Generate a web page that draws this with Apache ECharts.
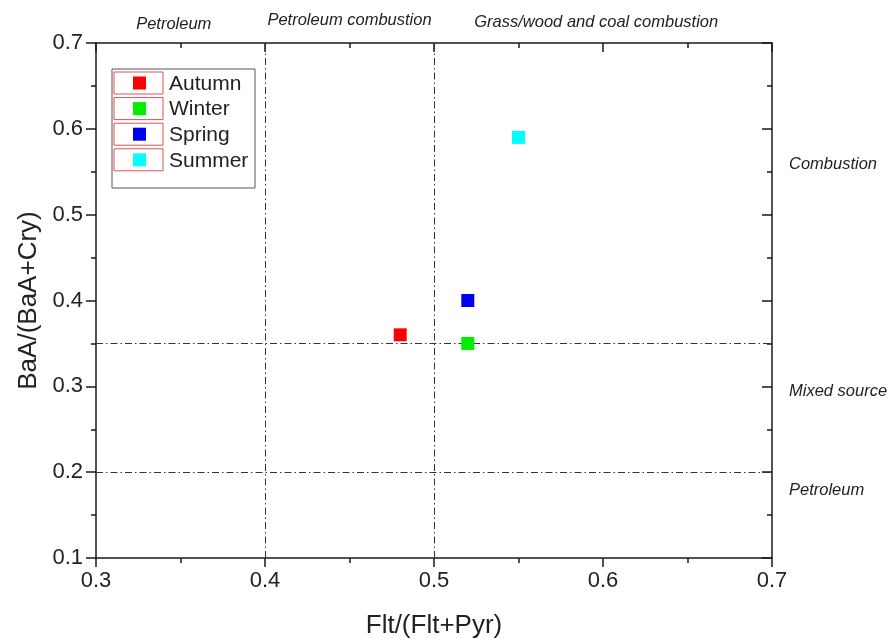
<!DOCTYPE html>
<html>
<head>
<meta charset="utf-8">
<script src="https://cdn.jsdelivr.net/npm/echarts@6/dist/echarts.min.js"></script>
<style>
  html, body { margin: 0; padding: 0; background: #fff; }
  #chart { width: 889px; height: 639px; }
</style>
</head>
<body>
<div id="chart"></div>
<script>
// Seasonal diagnostic ratios of PAH sources
const seasons = ['Autumn', 'Winter', 'Spring', 'Summer'];
const colors = ['#ff0000', '#00ee00', '#0000ee', '#00ffff'];
const fltRatio = [0.48, 0.52, 0.52, 0.55];   // Flt/(Flt+Pyr)
const baaRatio = [0.36, 0.35, 0.40, 0.59];   // BaA/(BaA+Cry)

// Source-threshold lines
const xThresholds = [0.4, 0.5];
const yThresholds = [0.35, 0.2];

// Region labels
const topLabels = [
  { text: 'Petroleum', x: 0.346, dy: 24 },
  { text: 'Petroleum combustion', x: 0.45, dy: 20 },
  { text: 'Grass/wood and coal combustion', x: 0.596, dy: 22 }
];
const rightLabels = [
  { text: 'Combustion', y: 0.558 },
  { text: 'Mixed source', y: 0.294 },
  { text: 'Petroleum', y: 0.179 }
];

const chart = echarts.init(document.getElementById('chart'));

const G = { left: 96, right: 117, top: 43, bottom: 81, outerBoundsMode: 'none', containLabel: false };
const FONT = 'Arial, "Liberation Sans", sans-serif';
const dashDot = [7, 3, 1.5, 3];
const AXIS_COLOR = '#1a1a1a';

const xBase = {
  type: 'value', min: 0.3, max: 0.7, interval: 0.1,
  axisLine: { show: true, onZero: false, lineStyle: { color: AXIS_COLOR, width: 1.5 } },
  splitLine: { show: false }
};
const yBase = {
  type: 'value', min: 0.1, max: 0.7, interval: 0.1,
  axisLine: { show: true, onZero: false, lineStyle: { color: AXIS_COLOR, width: 1.5 } },
  splitLine: { show: false }
};
const tick = (inside, len) => ({ show: true, inside, length: len, lineStyle: { color: AXIS_COLOR, width: 1.5 } });
const minor = { show: true, splitNumber: 2, length: 5, lineStyle: { color: AXIS_COLOR, width: 1.5 } };

const series = seasons.map((name, i) => ({
  name, type: 'scatter', symbol: 'rect', symbolSize: 13,
  itemStyle: { color: colors[i], opacity: 1 },
  data: [[fltRatio[i], baaRatio[i]]],
  z: 5
}));

series.push({
  type: 'scatter', data: [], silent: true,
  markLine: {
    symbol: 'none', silent: true, label: { show: false },
    lineStyle: { color: '#333', width: 1, type: dashDot },
    data: xThresholds.map(v => ({ xAxis: v })).concat(yThresholds.map(v => ({ yAxis: v })))
  }
});

const italicText = (text, align) => ({
  text, fontStyle: 'italic', fontSize: 16.5, fontFamily: FONT, fill: '#222',
  textAlign: align, textVerticalAlign: 'middle'
});

const graphics = [];
topLabels.forEach(l => {
  graphics.push({ type: 'text', id: 'top-' + l.text, style: italicText(l.text, 'center'), position: [0, l.dy] });
});
rightLabels.forEach(l => {
  graphics.push({ type: 'text', id: 'right-' + l.text, style: italicText(l.text, 'left'), position: [789, 0] });
});

// legend frame with one bordered key per season
graphics.push({
  type: 'rect', shape: { x: 112, y: 69, width: 143, height: 119 },
  style: { fill: '#fff', stroke: '#555', lineWidth: 1 }, z: 10
});
seasons.forEach((name, i) => {
  const cy = 83 + i * 25.6;
  graphics.push({
    type: 'rect', shape: { x: 114, y: cy - 11, width: 49, height: 22 },
    style: { fill: 'none', stroke: '#e05050', lineWidth: 1 }, z: 11
  });
  graphics.push({
    type: 'rect', shape: { x: 133, y: cy - 6.5, width: 13, height: 13 },
    style: { fill: colors[i] }, z: 11
  });
  graphics.push({
    type: 'text', position: [169, cy + 1], style: {
      text: name, fontSize: 21, fontFamily: FONT, fill: '#222',
      textVerticalAlign: 'middle'
    }, z: 11
  });
});

chart.setOption({
  animation: false,
  backgroundColor: '#fff',
  grid: G,
  xAxis: [
    Object.assign({}, xBase, {
      position: 'bottom',
      name: 'Flt/(Flt+Pyr)', nameLocation: 'middle', nameGap: 55,
      nameTextStyle: { fontSize: 26, color: '#222', fontFamily: FONT },
      axisTick: tick(false, 9), minorTick: minor,
      axisLabel: { fontSize: 22, color: '#222', fontFamily: FONT, margin: 12 }
    }),
    Object.assign({}, xBase, {
      position: 'top',
      axisTick: tick(true, 9), minorTick: minor,
      axisLabel: { show: false }
    })
  ],
  yAxis: [
    Object.assign({}, yBase, {
      position: 'left',
      name: 'BaA/(BaA+Cry)', nameLocation: 'middle', nameGap: 43,
      nameTextStyle: { fontSize: 26, color: '#222', fontFamily: FONT },
      axisTick: tick(false, 10), minorTick: minor,
      axisLabel: { fontSize: 22, color: '#222', fontFamily: FONT, margin: 13, formatter: v => v.toFixed(1) }
    }),
    Object.assign({}, yBase, {
      position: 'right',
      axisTick: tick(true, 10), minorTick: minor,
      axisLabel: { show: false }
    })
  ],
  series,
  graphic: graphics
});

// place region labels through the axis scales
chart.setOption({
  graphic: topLabels.map(l => ({
    id: 'top-' + l.text,
    position: [chart.convertToPixel({ xAxisIndex: 0 }, l.x), l.dy]
  })).concat(rightLabels.map(l => ({
    id: 'right-' + l.text,
    position: [789, chart.convertToPixel({ yAxisIndex: 0 }, l.y)]
  })))
});
</script>
</body>
</html>
